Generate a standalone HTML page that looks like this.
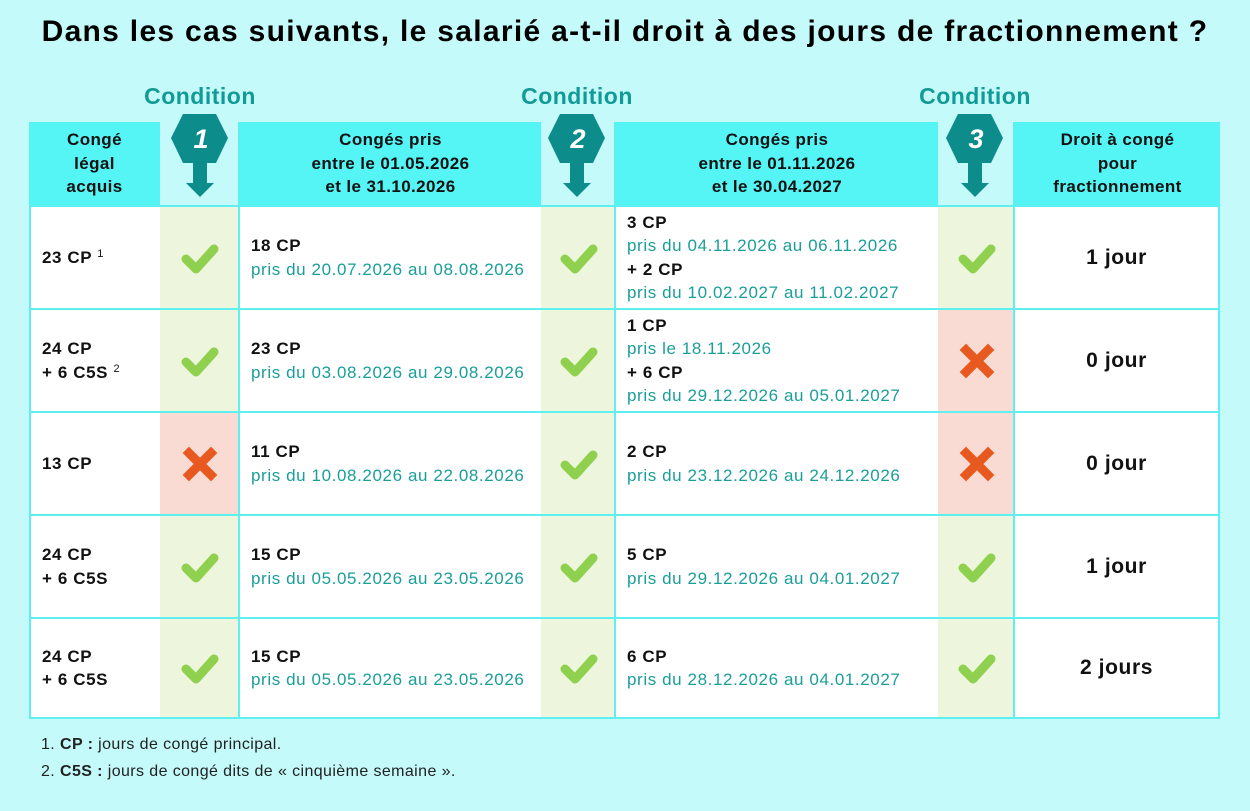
<!DOCTYPE html>
<html><head><meta charset="utf-8"><style>
*{margin:0;padding:0;box-sizing:border-box}
body{width:1250px;height:811px;background:#c4fafa;font-family:"Liberation Sans",sans-serif;position:relative;overflow:hidden;color:#111}
.a{position:absolute}
.title{left:0;width:1250px;top:15px;text-align:center;font-size:30px;letter-spacing:1.3px;font-weight:bold;color:#000;white-space:nowrap}
.cond{font-size:23px;letter-spacing:0.5px;font-weight:bold;color:#119a96;width:200px;text-align:center;top:83px}
.hd{background:#55f5f5;display:flex;align-items:center;justify-content:center;text-align:center;font-weight:bold;font-size:17px;letter-spacing:0.4px;line-height:23.5px;top:122px;height:83px}
.c{background:#fff;border:2px solid #5ef0f0;display:flex;flex-direction:column;justify-content:center;font-size:17px;letter-spacing:0.6px;line-height:23.5px}
.k{border-top:2px solid #5ef0f0;border-bottom:2px solid #5ef0f0;display:flex;align-items:center;justify-content:center}
.g{background:#edf5dc}.r{background:#fadbd3}
b{font-weight:bold}
.t{color:#1a9e9a}
.l2{padding-left:11px}
.ctr{align-items:center;font-weight:bold;font-size:21px}
sup{font-size:11px;font-weight:normal;vertical-align:6px;line-height:0}
.foot{left:41px;font-size:16px;letter-spacing:0.4px;color:#222}
</style></head><body>
<div class="a title">Dans les cas suivants, le salarié a-t-il droit à des jours de fractionnement ?</div>
<div class="a cond" style="left:100px">Condition</div>
<div class="a cond" style="left:477px">Condition</div>
<div class="a cond" style="left:875px">Condition</div>

<div class="a hd" style="left:29px;width:131px">Congé<br>légal<br>acquis</div>
<div class="a hd" style="left:238px;width:303px;border-left:2px solid #5ef0f0">Congés pris<br>entre le 01.05.2026<br>et le 31.10.2026</div>
<div class="a hd" style="left:614px;width:324px;border-left:2px solid #5ef0f0">Congés pris<br>entre le 01.11.2026<br>et le 30.04.2027</div>
<div class="a hd" style="left:1013px;width:207px;border-left:2px solid #5ef0f0">Droit à congé<br>pour<br>fractionnement</div>

<svg class="a" style="left:0;top:0" width="1250" height="811">
<defs><g id="hx"><polygon points="-17,0 16,0 28,24 16,49 -17,49 -29,24" fill="#0c8c8a"/><rect x="-7" y="48" width="14" height="22" fill="#0c8c8a"/><polygon points="-14,69 14,69 0,83" fill="#0c8c8a"/></g></defs>
<use href="#hx" x="200" y="114"/><use href="#hx" x="577" y="114"/><use href="#hx" x="975" y="114"/>
<g font-family="Liberation Sans" font-weight="bold" font-style="italic" font-size="27" fill="#fff" text-anchor="middle">
<text x="201" y="148">1</text><text x="578" y="148">2</text><text x="976" y="148">3</text></g>
</svg>

<div id="rows"></div>
<script>
var rows=[
{a:'23 CP <sup>1</sup>',k1:1,b:'<b>18 CP</b><span class="t">pris du 20.07.2026 au 08.08.2026</span>',k2:1,c:'<b>3 CP</b><span class="t">pris du 04.11.2026 au 06.11.2026</span><b>+ 2 CP</b><span class="t">pris du 10.02.2027 au 11.02.2027</span>',k3:1,d:'1 jour'},
{a:'24 CP<br>+ 6 C5S <sup>2</sup>',k1:1,b:'<b>23 CP</b><span class="t">pris du 03.08.2026 au 29.08.2026</span>',k2:1,c:'<b>1 CP</b><span class="t">pris le 18.11.2026</span><b>+ 6 CP</b><span class="t">pris du 29.12.2026 au 05.01.2027</span>',k3:0,d:'0 jour'},
{a:'13 CP',k1:0,b:'<b>11 CP</b><span class="t">pris du 10.08.2026 au 22.08.2026</span>',k2:1,c:'<b>2 CP</b><span class="t">pris du 23.12.2026 au 24.12.2026</span>',k3:0,d:'0 jour'},
{a:'24 CP<br>+ 6 C5S',k1:1,b:'<b>15 CP</b><span class="t">pris du 05.05.2026 au 23.05.2026</span>',k2:1,c:'<b>5 CP</b><span class="t">pris du 29.12.2026 au 04.01.2027</span>',k3:1,d:'1 jour'},
{a:'24 CP<br>+ 6 C5S',k1:1,b:'<b>15 CP</b><span class="t">pris du 05.05.2026 au 23.05.2026</span>',k2:1,c:'<b>6 CP</b><span class="t">pris du 28.12.2026 au 04.01.2027</span>',k3:1,d:'2 jours'}];
var chk='<svg width="40" height="34"><polyline points="6,18 16,28 34,8" fill="none" stroke="#8fd14f" stroke-width="9" stroke-linecap="round" stroke-linejoin="round"/></svg>';
var crs='<svg width="36" height="36"><g stroke="#e8591f" stroke-width="9" stroke-linecap="square"><line x1="7" y1="7" x2="29" y2="29"/><line x1="29" y1="7" x2="7" y2="29"/></g></svg>';
var h='';
rows.forEach(function(r,i){var t=205+i*103,hh=(i==4?102:105);
function c(l,w,cls,inner){h+='<div class="a '+cls+'" style="left:'+l+'px;top:'+t+'px;width:'+w+'px;height:'+hh+'px">'+inner+'</div>';}
c(29,133,'c l2','<b>'+r.a+'</b>');
c(160,80,'k '+(r.k1?'g':'r'),r.k1?chk:crs);
c(238,305,'c l2',r.b);
c(541,75,'k '+(r.k2?'g':'r'),r.k2?chk:crs);
c(614,326,'c l2',r.c);
c(938,77,'k '+(r.k3?'g':'r'),r.k3?chk:crs);
c(1013,207,'c ctr',r.d);
});
document.getElementById('rows').innerHTML=h;
</script>
<div class="a foot" style="top:736px">1. <b>CP :</b> jours de congé principal.</div>
<div class="a foot" style="top:763px">2. <b>C5S :</b> jours de congé dits de « cinquième semaine ».</div>
</body></html>
